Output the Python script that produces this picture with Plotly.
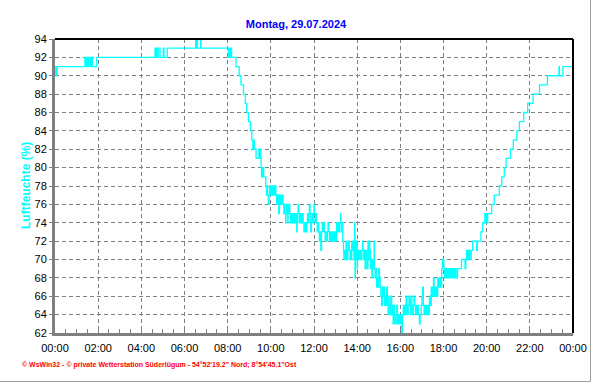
import plotly.graph_objects as go

# Relative humidity change points: [minute of day, % value]
readings_night = [
    [0, 90], [2, 91], [3, 90], [6, 91], [83, 92], [85, 91], [86, 92], [88, 91], [89, 92],
    [92, 91], [93, 92], [97, 91], [98, 92], [101, 91], [102, 92], [104, 91], [116, 92],
    [278, 93], [280, 92], [282, 93], [283, 92], [287, 93], [292, 92], [301, 93], [303, 92],
    [312, 93], [391, 94], [393, 93], [395, 94], [396, 93], [405, 94], [406, 93],
]
readings_morning = [
    [482, 92], [483, 93], [484, 92], [486, 93], [487, 92], [489, 93], [491, 92], [503, 91],
    [512, 90], [517, 89], [524, 88], [529, 87], [533, 86], [538, 85], [543, 84], [547, 83],
    [550, 82], [552, 83], [554, 82], [559, 81], [567, 82], [569, 81], [570, 82], [572, 81],
    [573, 80], [574, 79], [575, 80], [577, 79], [578, 80], [580, 79], [586, 78], [588, 77],
    [590, 78], [591, 77], [593, 76], [595, 77], [597, 78], [598, 77],
]
readings_midday = [
    [600, 78], [601, 77], [603, 78], [604, 77], [606, 78], [607, 77], [609, 78], [611, 77],
    [612, 78], [614, 77], [616, 76], [617, 77], [619, 76], [621, 77], [622, 75], [624, 76],
    [625, 77], [627, 76], [628, 77], [630, 76], [632, 77], [634, 76], [636, 75], [637, 76],
    [639, 75], [641, 74], [642, 75], [644, 76], [645, 75], [647, 74], [648, 76], [650, 75],
    [652, 76], [653, 75], [655, 74], [656, 75], [658, 74], [660, 75], [661, 74], [663, 75],
    [665, 74], [666, 75], [668, 74], [670, 75], [672, 73], [673, 74], [675, 75], [676, 76],
    [678, 75], [680, 74], [681, 75], [683, 74], [685, 75], [686, 74], [688, 75], [690, 74],
    [692, 73], [693, 74], [695, 73], [697, 74], [698, 73], [700, 74], [702, 75], [704, 74],
    [706, 75], [707, 76], [709, 75], [711, 73], [713, 74], [715, 75], [716, 74], [718, 75],
    [720, 76], [721, 75], [723, 74], [725, 75], [727, 74], [729, 73], [731, 74], [733, 73],
    [735, 72], [737, 73], [739, 71], [741, 73], [743, 74], [745, 73], [747, 74], [749, 73],
    [751, 72], [753, 73], [755, 72], [757, 73], [759, 74], [761, 73], [763, 72], [765, 73],
    [767, 72], [769, 73], [770, 72], [772, 73], [773, 72], [775, 73], [776, 72], [778, 73],
    [780, 72], [783, 74], [784, 73], [786, 74], [787, 73], [789, 74], [790, 73], [792, 74],
    [794, 75], [795, 74], [797, 73], [799, 74], [800, 72], [802, 71], [803, 70], [805, 71],
    [807, 70], [809, 72], [811, 71], [812, 70], [814, 71], [816, 72], [818, 71], [820, 70],
    [822, 71], [824, 70], [825, 72], [827, 71], [829, 72], [831, 70], [833, 74], [834, 68],
]
readings_afternoon = [
    [835, 72], [836, 70], [838, 72], [840, 69], [841, 71], [843, 70], [845, 71], [847, 70],
    [849, 71], [851, 70], [853, 71], [855, 72], [856, 71], [858, 70], [860, 71], [862, 69],
    [864, 71], [866, 70], [868, 69], [870, 72], [872, 70], [873, 72], [875, 71], [877, 69],
    [879, 70], [881, 68], [883, 70], [885, 69], [887, 72], [888, 69], [890, 68], [892, 69],
    [894, 67], [896, 68], [898, 67], [900, 69], [902, 68], [904, 67], [906, 66], [908, 65],
    [910, 67], [912, 66], [914, 67], [916, 65], [918, 66], [920, 65], [922, 67], [924, 65],
    [926, 64], [928, 66], [930, 65], [932, 64], [934, 66], [936, 65], [938, 64], [940, 63],
    [942, 65], [944, 64], [946, 63], [948, 64], [950, 65], [952, 63], [954, 64], [956, 63],
    [958, 64], [960, 63], [962, 64], [964, 62], [966, 64], [968, 65], [970, 64], [972, 65],
    [974, 64], [976, 66], [978, 65], [980, 64], [982, 65], [984, 66], [986, 65], [988, 64],
    [990, 66], [992, 65], [994, 64], [996, 65], [998, 66], [1000, 65], [1002, 64], [1004, 65],
    [1006, 64], [1008, 65], [1010, 64], [1013, 63], [1015, 64], [1018, 65], [1020, 66],
    [1022, 67], [1024, 65], [1026, 64], [1028, 65], [1030, 64], [1032, 65], [1034, 64],
    [1036, 65], [1039, 64], [1041, 66], [1044, 65], [1046, 67], [1048, 66], [1050, 67],
    [1052, 68], [1054, 66], [1056, 67], [1058, 66], [1060, 67], [1062, 66], [1064, 68],
    [1067, 67], [1070, 68], [1073, 67], [1075, 69], [1077, 70],
]
readings_evening = [
    [1081, 69], [1083, 68], [1085, 69], [1087, 68], [1090, 69], [1092, 68], [1094, 69],
    [1096, 68], [1099, 69], [1101, 68], [1103, 69], [1105, 68], [1108, 69], [1110, 68],
    [1113, 69], [1115, 68], [1119, 69], [1130, 70], [1140, 69], [1142, 70], [1144, 71],
    [1146, 70], [1148, 71], [1150, 70], [1152, 71], [1156, 70], [1157, 71], [1161, 72],
    [1172, 71], [1174, 72], [1184, 73], [1189, 74], [1195, 75], [1197, 74], [1199, 75],
    [1201, 74], [1203, 75], [1214, 76], [1221, 77], [1235, 78], [1242, 79], [1249, 80],
    [1254, 81], [1266, 82], [1274, 83], [1284, 84], [1291, 85], [1303, 86], [1314, 87],
    [1329, 88], [1347, 89], [1369, 90], [1401, 91], [1402, 90], [1412, 91], [1440, 91],
]

x_tick_minutes = [0, 120, 240, 360, 480, 600, 720, 840, 960, 1080, 1200, 1320, 1440]
x_tick_labels = ["00:00", "02:00", "04:00", "06:00", "08:00", "10:00", "12:00",
                 "14:00", "16:00", "18:00", "20:00", "22:00", "00:00"]
y_ticks = [62, 64, 66, 68, 70, 72, 74, 76, 78, 80, 82, 84, 86, 88, 90, 92, 94]

title_text = "Montag, 29.07.2024"
y_title = "Luftfeuchte (%)"
footer_text = "© WsWin32 - © private Wetterstation Süderlügum - 54°52'19.2\" Nord; 8°54'45.1\"Ost"

readings = readings_night + readings_morning + readings_midday + readings_afternoon + readings_evening
minutes = [r[0] for r in readings]
humidity = [r[1] for r in readings]

W, H = 592, 384
L, R, T, B = 55, 573, 39, 333
pw, ph = R - L, B - T

def px(x):
    return (x - L) / pw

def py(y):
    return (B - y) / ph

fig = go.Figure()
fig.add_trace(go.Scatter(
    x=minutes, y=humidity, mode="lines",
    line=dict(shape="hv", color="#00FFFF", width=1.3),
    hoverinfo="skip", showlegend=False,
))

grid = dict(showgrid=True, gridcolor="#808080", gridwidth=1, griddash="4px,3px", automargin=False)
fig.update_xaxes(
    range=[0, 1440], tickvals=x_tick_minutes, ticktext=x_tick_labels,
    showline=True, linecolor="#808080", linewidth=3, zeroline=False,
    ticks="inside", ticklen=4, tickcolor="#808080", tickwidth=1,
    minor=dict(dtick=30, ticks="inside", ticklen=4, tickcolor="#808080", showgrid=False),
    tickfont=dict(family="Liberation Sans, Arial", size=11, color="#000000"),
    ticklabelstandoff=3,
    **grid,
)
fig.update_yaxes(
    range=[62, 94], tickvals=y_ticks,
    showline=True, linecolor="#808080", linewidth=3, zeroline=False,
    ticks="outside", ticklen=3, tickcolor="#808080", tickwidth=1,
    tickfont=dict(family="Liberation Sans, Arial", size=11, color="#000000"),
    **grid,
)

shapes = [
    dict(type="line", xref="paper", yref="paper", x0=0, x1=1, y0=1, y1=1,
         line=dict(color="#000000", width=2)),
    dict(type="line", xref="paper", yref="paper", x0=1, x1=1, y0=0, y1=1,
         line=dict(color="#000000", width=2)),
    dict(type="line", xref="paper", yref="paper", x0=px(0), x1=px(590.5), y0=py(381.5), y1=py(381.5),
         line=dict(color="#A0A0A0", width=1)),
    dict(type="line", xref="paper", yref="paper", x0=px(590.5), x1=px(590.5), y0=py(381.5), y1=py(0),
         line=dict(color="#A0A0A0", width=1)),
]

annotations = [
    dict(text="<b>" + y_title + "</b>", xref="paper", yref="paper", x=px(26), y=0.5,
         xanchor="center", yanchor="middle", textangle=-90, showarrow=False,
         font=dict(family="Liberation Sans, Arial", size=12, color="#00FFFF")),
    dict(text="<b>" + footer_text + "</b>", xref="paper", yref="paper", x=px(20), y=py(365),
         xanchor="left", yanchor="middle", showarrow=False,
         font=dict(family="Liberation Sans, Arial", size=7, color="#FF0000")),
]

fig.update_layout(
    template="none",
    width=W, height=H, autosize=False, margin=dict(l=L, r=W - R, t=T, b=H - B, pad=0),
    paper_bgcolor="#FFFFFF", plot_bgcolor="#FFFFFF",
    title=dict(text="<b>" + title_text + "</b>", x=0.5, xref="container", xanchor="center",
               y=1 - 24 / H, yref="container", yanchor="middle",
               font=dict(family="Liberation Sans, Arial", size=11, color="#0000FF")),
    shapes=shapes, annotations=annotations, showlegend=False,
)

fig.write_html("out.html", config={"displayModeBar": False, "responsive": False})
